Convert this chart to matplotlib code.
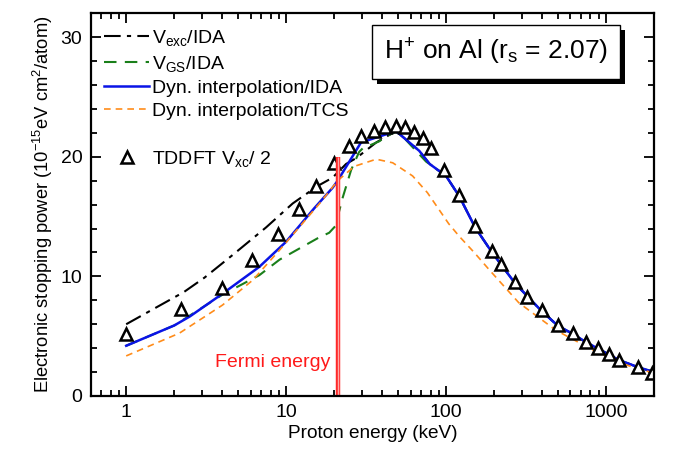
import matplotlib
matplotlib.use("Agg")
import matplotlib.pyplot as plt
import matplotlib.patheffects as pe
from matplotlib.lines import Line2D
from matplotlib.ticker import LogLocator, MultipleLocator, NullFormatter, FixedLocator

plt.rcParams["font.family"] = ["Liberation Sans", "DejaVu Sans"]
plt.rcParams["mathtext.default"] = "regular"

# TDDFT V_xc / 2 (triangles)
tddft_e = [1.0, 2.2, 3.96, 6.1, 8.95, 12.0, 15.4, 20.0, 24.9, 29.4, 35.6, 41.8, 48.7, 55.7,
           63.4, 72.1, 80.5, 97.5, 121, 152, 194, 221, 271, 321, 396, 498, 618, 750, 895,
           1049, 1211, 1592, 1955]
tddft_s = [5.15, 7.3, 9.05, 11.4, 13.55, 15.65, 17.6, 19.45, 20.9, 21.7, 22.15, 22.5, 22.6, 22.5,
           22.1, 21.6, 20.7, 18.9, 16.8, 14.2, 12.1, 11.0, 9.5, 8.3, 7.2, 5.95, 5.3, 4.55, 4.0,
           3.5, 3.0, 2.4, 1.95]

# Dyn. interpolation / IDA
ida_e = [1.0, 2.0, 2.5, 4.0, 6.8, 10.0, 15.0, 19.5, 21.0, 29.4, 48.7, 68, 79, 100, 121, 152,
         194, 271, 396, 498, 618, 750, 895, 1049, 1211, 1592, 2000]
ida_s = [4.2, 5.9, 6.65, 8.55, 10.8, 12.9, 15.7, 17.4, 18.0, 21.2, 22.15, 20.5, 19.4, 18.4,
         16.7, 14.1, 12.0, 9.4, 7.1, 5.9, 5.2, 4.5, 3.95, 3.45, 3.0, 2.4, 2.0]

# V_GS / IDA
gs_e = [1.0, 2.0, 4.0, 6.8, 9.1, 15.8, 18.6, 20.3, 22.6, 25.5, 28.6, 30.1, 38.3, 42.0, 48.7,
        53.6, 75, 100, 121, 152, 194, 271, 396, 498, 618, 750, 895, 1049, 1211, 1592, 2000]
gs_s = [4.2, 5.9, 8.47, 10.1, 11.4, 13.2, 13.65, 14.2, 16.6, 18.9, 20.4, 20.7, 21.3, 21.7, 22.1,
        21.7, 19.6, 18.4, 16.7, 14.1, 12.0, 9.4, 7.1, 5.9, 5.2, 4.5, 3.95, 3.45, 3.0, 2.4, 2.0]

# V_exc / IDA
exc_e = [1.0, 1.54, 2.3, 3.09, 4.64, 7.5, 11.0, 15.7, 19.5, 23.7, 27.5, 36.6, 48.7, 68, 79, 100,
         121, 152, 194, 271, 396, 498, 618, 750, 895, 1049, 1211, 1592, 2000]
exc_s = [6.0, 7.4, 8.7, 9.9, 11.8, 14.1, 16.1, 17.55, 18.25, 19.4, 19.9, 21.2, 22.15, 20.5, 19.4,
         18.4, 16.7, 14.1, 12.0, 9.4, 7.1, 5.9, 5.2, 4.5, 3.95, 3.45, 3.0, 2.4, 2.0]

# Dyn. interpolation / TCS
tcs_e = [1.0, 2.15, 4.0, 6.2, 9.1, 16.2, 21.0, 26.7, 36.6, 46.4, 61.8, 76.5, 104, 121, 150,
         185, 285, 486, 825, 1333, 2000]
tcs_s = [3.35, 5.25, 7.6, 9.7, 12.2, 16.1, 18.0, 19.2, 19.8, 19.5, 18.4, 17.0, 14.4, 13.35, 12.0,
         10.6, 7.8, 5.5, 3.86, 2.6, 1.9]

fermi_e = 21.0
fermi_top = 20.0

fig = plt.figure(figsize=(6.75, 4.54), dpi=100)
ax = fig.add_axes([0.1344, 0.1278, 0.8346, 0.8429])

ax.plot(exc_e, exc_s, color="black", lw=1.5, dashes=(8, 3, 2, 3), label="V$_{exc}$/IDA")
ax.plot(gs_e, gs_s, color="#1a7f1a", lw=1.5, dashes=(6, 4), label="V$_{GS}$/IDA")
ax.plot(ida_e, ida_s, color="#0a14e6", lw=1.8, label="Dyn. interpolation/IDA")
ax.plot(tcs_e, tcs_s, color="#ff8c1a", lw=1.2, dashes=(4, 3), label="Dyn. interpolation/TCS")
ax.plot(tddft_e, tddft_s, linestyle="none", marker="^", ms=8, mfc="white", mec="black",
        mew=1.8, label="TDDFT V$_{xc}$/ 2", clip_on=True)

# Fermi energy marker
ax.plot([fermi_e, fermi_e], [0, fermi_top], color="#ff2a2a", lw=3.2, solid_capstyle="butt")
ax.plot([fermi_e, fermi_e], [0, fermi_top], color="#ffa8a8", lw=1.0, solid_capstyle="butt")
ax.text(0.425, 0.087, "Fermi energy", transform=ax.transAxes, color="#ff1a1a",
        fontsize=14, ha="right", va="center")

ax.set_xscale("log")
ax.set_xlim(0.6, 2000)
ax.set_ylim(0, 32)

ax.xaxis.set_major_locator(FixedLocator([1, 10, 100, 1000]))
ax.xaxis.set_minor_locator(LogLocator(base=10, subs=range(2, 10)))
ax.xaxis.set_minor_formatter(NullFormatter())
ax.set_xticklabels(["1", "10", "100", "1000"])
ax.yaxis.set_major_locator(MultipleLocator(10))
ax.yaxis.set_minor_locator(MultipleLocator(2))

ax.tick_params(which="both", direction="in", top=True, right=True, labelsize=14, width=1.3)
ax.tick_params(which="major", length=7, pad=6)
ax.tick_params(which="minor", length=4)
for s in ax.spines.values():
    s.set_linewidth(1.6)

ax.set_xlabel("Proton energy (keV)", fontsize=13.7, labelpad=3)
ax.set_ylabel("Electronic stopping power (10$^{-15}$eV cm$^2$/atom)", fontsize=13.2, labelpad=4)

# legend with a blank row before the triangles
handles, labels = ax.get_legend_handles_labels()
blank = Line2D([], [], linestyle="none")
handles = handles[:4] + [blank] + handles[4:]
labels = labels[:4] + [" "] + labels[4:]
ax.legend(handles, labels, loc="upper left", bbox_to_anchor=(0.0, 0.997), frameon=False,
          fontsize=14, handlelength=2.3, handletextpad=0.15, labelspacing=0.29,
          borderaxespad=0.3)

txt = ax.text(0.719, 0.9, "H$^{+}$ on Al (r$_{s}$ = 2.07)", transform=ax.transAxes,
              fontsize=19, ha="center", va="center",
              bbox=dict(boxstyle="square,pad=0.45", fc="white", ec="black", lw=1.0))
txt.get_bbox_patch().set_path_effects([
    pe.SimplePatchShadow(offset=(4, -4), shadow_rgbFace="black", alpha=1.0),
    pe.Normal()])

fig.savefig("out.png", dpi=100)
